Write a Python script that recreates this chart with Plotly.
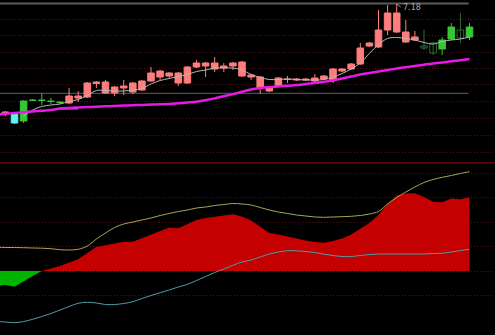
import plotly.graph_objects as go

# ---------------- data ----------------
candle_idx = list(range(52))
opens = [6.08, 6.08, 6.21, 6.22, 6.22, 6.21, 6.20, 6.19, 6.24, 6.25,
         6.385, 6.29, 6.29, 6.34, 6.30, 6.32, 6.41, 6.45, 6.46, 6.39,
         6.39, 6.55, 6.56, 6.53, 6.54, 6.56, 6.46, 6.45, 6.34, 6.31,
         6.36, 6.425, 6.42, 6.42, 6.41, 6.43, 6.42, 6.51, 6.53, 6.58,
         6.76, 6.75, 6.92, 6.90, 6.80, 6.82, 6.76, 6.79, 6.82, 6.95,
         6.92, 6.95]
highs = [6.11, 6.09, 6.22, 6.23, 6.29, 6.24, 6.21, 6.34, 6.31, 6.40,
         6.41, 6.42, 6.36, 6.42, 6.40, 6.42, 6.55, 6.52, 6.50, 6.50,
         6.56, 6.62, 6.60, 6.65, 6.59, 6.60, 6.61, 6.48, 6.46, 6.35,
         6.45, 6.46, 6.44, 6.44, 6.48, 6.47, 6.54, 6.54, 6.59, 6.79,
         6.80, 7.12, 7.17, 7.18, 7.02, 6.91, 6.92, 6.80, 6.85, 6.99,
         7.09, 6.99]
lows = [6.06, 5.98, 5.99, 6.21, 6.17, 6.18, 6.18, 6.18, 6.20, 6.24,
        6.34, 6.28, 6.26, 6.27, 6.28, 6.31, 6.40, 6.42, 6.44, 6.36,
        6.38, 6.54, 6.45, 6.50, 6.50, 6.52, 6.45, 6.42, 6.28, 6.30,
        6.35, 6.39, 6.41, 6.41, 6.40, 6.42, 6.39, 6.50, 6.52, 6.57,
        6.75, 6.74, 6.87, 6.89, 6.79, 6.81, 6.72, 6.67, 6.67, 6.82,
        6.79, 6.82]
closes = [6.10, 5.99, 6.01, 6.215, 6.215, 6.205, 6.195, 6.26, 6.26, 6.39,
          6.40, 6.40, 6.35, 6.36, 6.39, 6.41, 6.49, 6.51, 6.49, 6.49,
          6.55, 6.59, 6.59, 6.59, 6.56, 6.59, 6.60, 6.47, 6.45, 6.34,
          6.44, 6.43, 6.43, 6.43, 6.44, 6.46, 6.53, 6.53, 6.58, 6.74,
          6.79, 6.92, 7.09, 7.09, 6.90, 6.85, 6.74, 6.69, 6.73, 6.83,
          6.84, 6.85]
candle_kind = ["up", "cyan", "down", "down", "down", "down", "down", "up", "up", "up",
               "up", "up", "up", "up", "up", "up", "up", "up", "up", "up",
               "up", "up", "up", "up", "up", "up", "up", "up", "up", "up",
               "up", "up", "up", "up", "up", "up", "up", "up", "up", "up",
               "up", "up", "up", "up", "up", "up", "hollow", "hollow", "down", "down",
               "hollow", "down"]

ma_short_idx = list(range(2, 52))
ma_short = [6.06, 6.12, 6.155, 6.17, 6.18, 6.205, 6.225, 6.265, 6.315, 6.315,
            6.31, 6.31, 6.32, 6.335, 6.38, 6.415, 6.435, 6.455, 6.475, 6.505,
            6.52, 6.54, 6.54, 6.54, 6.52, 6.475, 6.445, 6.425, 6.425, 6.43,
            6.425, 6.42, 6.42, 6.425, 6.45, 6.485, 6.53, 6.59, 6.685, 6.775,
            6.835, 6.845, 6.835, 6.82, 6.795, 6.78, 6.805, 6.82, 6.83, 6.85]

ind_idx = list(range(-1, 52))
ma_long = [6.075, 6.082, 6.09, 6.098, 6.105, 6.113, 6.12, 6.134, 6.141, 6.145,
           6.149, 6.153, 6.157, 6.16, 6.164, 6.168, 6.171, 6.174, 6.178, 6.18,
           6.187, 6.195, 6.202, 6.218, 6.236, 6.258, 6.279, 6.302, 6.325, 6.34,
           6.35, 6.356, 6.363, 6.369, 6.38, 6.39, 6.402, 6.416, 6.435, 6.455,
           6.475, 6.49, 6.505, 6.52, 6.536, 6.548, 6.56, 6.573, 6.584, 6.596,
           6.607, 6.618, 6.63]

hist = [-0.15, -0.14, -0.157, -0.10, -0.05, 0.0, 0.025, 0.05, 0.085, 0.117,
        0.18, 0.24, 0.257, 0.275, 0.293, 0.293, 0.33, 0.36, 0.40, 0.435,
        0.427, 0.47, 0.51, 0.53, 0.545, 0.555, 0.567, 0.545, 0.505, 0.44,
        0.38, 0.365, 0.345, 0.32, 0.305, 0.29, 0.283, 0.30, 0.325, 0.365,
        0.42, 0.48, 0.56, 0.67, 0.755, 0.775, 0.777, 0.74, 0.692, 0.687,
        0.725, 0.718, 0.737]
upper = [0.237, 0.235, 0.235, 0.233, 0.23, 0.228, 0.223, 0.213, 0.21, 0.217,
         0.25, 0.32, 0.38, 0.435, 0.47, 0.49, 0.51, 0.53, 0.555, 0.575,
         0.595, 0.61, 0.63, 0.64, 0.655, 0.665, 0.675, 0.67, 0.66, 0.635,
         0.61, 0.59, 0.575, 0.56, 0.55, 0.54, 0.537, 0.54, 0.543, 0.547,
         0.555, 0.57, 0.595, 0.67, 0.735, 0.79, 0.84, 0.885, 0.915, 0.937,
         0.955, 0.975, 0.993]
lower = [-0.505, -0.51, -0.517, -0.505, -0.483, -0.455, -0.425, -0.39, -0.355, -0.323,
         -0.313, -0.32, -0.335, -0.335, -0.325, -0.307, -0.275, -0.245, -0.217, -0.19,
         -0.16, -0.133, -0.095, -0.055, -0.015, 0.02, 0.057, 0.09, 0.11, 0.14,
         0.17, 0.19, 0.203, 0.202, 0.195, 0.185, 0.168, 0.155, 0.145, 0.145,
         0.155, 0.165, 0.17, 0.17, 0.17, 0.17, 0.17, 0.17, 0.175, 0.178,
         0.19, 0.205, 0.217]

mark_idx = [6, 8]
mark_price = [6.135, 6.135]

price_high = 7.18
range_low_line = 6.287
top_grid = [7.03, 6.87, 6.70, 6.54, 6.38, 6.21, 6.04, 5.87, 5.70]
bottom_grid = [-0.245, 0.0, 0.245, 0.49, 0.735, 0.98]

# ---------------- figure ----------------
W, H = 495, 335
split = (335 - 162) / 335.0
GRID = "#5a1010"

fig = go.Figure()

styles = {
    "up": ("#ff7d7d", "#ff7d7d"),
    "down": ("#36c636", "#36c636"),
    "cyan": ("#5ef2f2", "#5ef2f2"),
    "hollow": ("#2f6a2f", "#000000"),
}
for kind, (lc, fc) in styles.items():
    sel = [i for i, k in enumerate(candle_kind) if k == kind]
    wx, wy = [], []
    for i in sel:
        wx += [candle_idx[i], candle_idx[i], None]
        wy += [lows[i], highs[i], None]
    fig.add_trace(go.Scatter(x=wx, y=wy, mode="lines", line=dict(color=lc, width=1),
                             showlegend=False, hoverinfo="skip", xaxis="x", yaxis="y"))
    fig.add_trace(go.Bar(
        x=[candle_idx[i] for i in sel],
        base=[min(opens[i], closes[i]) for i in sel],
        y=[max(abs(closes[i] - opens[i]), 0.004) for i in sel],
        width=0.72, marker=dict(color=fc, line=dict(color=lc, width=1)),
        showlegend=False, hoverinfo="skip", xaxis="x", yaxis="y"))

fig.add_trace(go.Scatter(x=mark_idx, y=mark_price, mode="lines",
                         line=dict(color="#22dd22", width=2),
                         showlegend=False, hoverinfo="skip", xaxis="x", yaxis="y"))
fig.add_trace(go.Scatter(x=ma_short_idx, y=ma_short, mode="lines",
                         line=dict(color="#b8b8b8", width=1, shape="spline"),
                         showlegend=False, hoverinfo="skip", xaxis="x", yaxis="y"))
fig.add_trace(go.Scatter(x=ind_idx, y=ma_long, mode="lines",
                         line=dict(color="#e619e6", width=2.5, shape="spline"),
                         showlegend=False, hoverinfo="skip", xaxis="x", yaxis="y"))

neg = [min(v, 0) for v in hist]
pos = [max(v, 0) for v in hist]
fig.add_trace(go.Scatter(x=ind_idx, y=neg, mode="lines", fill="tozeroy",
                         fillcolor="#00b400", line=dict(width=0, color="#00b400"),
                         showlegend=False, hoverinfo="skip", xaxis="x", yaxis="y2"))
fig.add_trace(go.Scatter(x=ind_idx, y=pos, mode="lines", fill="tozeroy",
                         fillcolor="#c40000", line=dict(width=0, color="#c40000"),
                         showlegend=False, hoverinfo="skip", xaxis="x", yaxis="y2"))
fig.add_trace(go.Scatter(x=ind_idx, y=upper, mode="lines",
                         line=dict(color="#a8a45a", width=1, shape="spline"),
                         showlegend=False, hoverinfo="skip", xaxis="x", yaxis="y2"))
fig.add_trace(go.Scatter(x=ind_idx, y=lower, mode="lines",
                         line=dict(color="#4d9ea4", width=1, shape="spline"),
                         showlegend=False, hoverinfo="skip", xaxis="x", yaxis="y2"))

x0 = (0 - 5.4) / 9.1
x1 = (495 - 5.4) / 9.1

shapes = [
    dict(type="line", xref="x", yref="y", x0=x0, x1=candle_idx[-1] - 0.1,
         y0=price_high + 0.005, y1=price_high + 0.005, line=dict(color="#5c5c5c", width=2), layer="below"),
    dict(type="line", xref="x", yref="y", x0=x0, x1=candle_idx[-1] - 0.1,
         y0=range_low_line, y1=range_low_line, line=dict(color="#606060", width=1), layer="below"),
    dict(type="line", xref="paper", yref="paper", x0=0, x1=1,
         y0=split - 0.002, y1=split - 0.002, line=dict(color="#5e0a0a", width=1.5), layer="below"),
]

ax_common = dict(showticklabels=False, showline=False, zeroline=False,
                 showgrid=True, gridcolor=GRID, griddash="1px,2px", gridwidth=1,
                 ticks="", fixedrange=True)

fig.update_layout(
    width=W, height=H, margin=dict(l=0, r=0, t=0, b=0),
    paper_bgcolor="#000000", plot_bgcolor="#000000",
    showlegend=False, shapes=shapes, barmode="overlay",
    xaxis=dict(range=[x0, x1], domain=[0, 1], visible=False, showgrid=False,
               fixedrange=True),
    yaxis=dict(domain=[split, 1], range=[7.22 - 1.62, 7.22], tickvals=top_grid, **ax_common),
    yaxis2=dict(domain=[0, split], range=[-0.64, 1.09], tickvals=bottom_grid, **ax_common),
    annotations=[dict(x=43, y=price_high, xref="x", yref="y", text="7.18",
                      showarrow=True, arrowhead=0, arrowcolor="#9a9a9a", arrowwidth=1,
                      ax=4, ay=3, xanchor="left", yanchor="middle",
                      font=dict(family="DejaVu Sans", size=8, color="#a8a8a8"))],
)

fig.write_html("out.html")
